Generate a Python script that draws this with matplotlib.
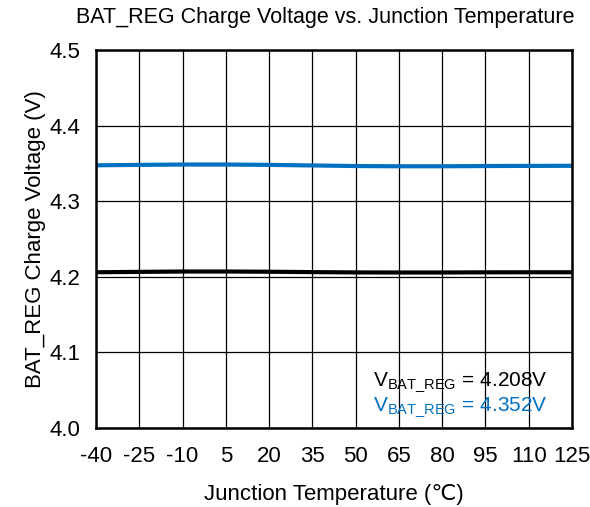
import matplotlib
matplotlib.use("Agg")
import matplotlib.pyplot as plt

# data
temps = [-40, -25, -10, 5, 20, 35, 50, 65, 80, 95, 110, 125]
vreg_420 = [4.206, 4.2065, 4.207, 4.207, 4.2067, 4.2062, 4.2058, 4.2057, 4.2057, 4.2059, 4.206, 4.206]
vreg_435 = [4.3475, 4.348, 4.3485, 4.3485, 4.348, 4.3473, 4.3465, 4.3462, 4.3462, 4.3465, 4.3467, 4.3468]
xticks = temps
xticklabels = ["-40", "-25", "-10", "5", "20", "35", "50", "65", "80", "95", "110", "125"]
yticks = [4.0, 4.1, 4.2, 4.3, 4.4, 4.5]

plt.rcParams['font.family'] = ['Liberation Sans', 'DejaVu Sans']

fig = plt.figure(figsize=(5.9, 5.07), dpi=100)
ax = fig.add_axes([96 / 590, 1 - 428 / 507, 476 / 590, 378 / 507])

ax.plot(temps, vreg_420, color='black', lw=3, solid_capstyle='butt')
ax.plot(temps, vreg_435, color='#0070C0', lw=3, solid_capstyle='butt')

ax.set_xlim(-40, 125)
ax.set_ylim(4.0, 4.5)
ax.set_xticks(xticks)
ax.set_xticklabels(xticklabels)
ax.set_yticks(yticks)
ax.set_yticklabels([f"{v:.1f}" for v in yticks])
ax.tick_params(length=0, labelsize=16)
ax.tick_params(axis='x', pad=13)
ax.tick_params(axis='y', pad=11)
ax.grid(True, color='black', lw=0.9)
for s in ax.spines.values():
    s.set_linewidth(1.8)

# title sits a bit left of the axes centre in the reference
fig.text(325 / 590, 1 - 18 / 507, "BAT_REG Charge Voltage vs. Junction Temperature",
         fontsize=15.5, ha='center', va='center')
ax.set_xlabel("Junction Temperature (\u2103)", fontsize=16, labelpad=12)
ax.set_ylabel("BAT_REG Charge Voltage (V)", fontsize=16, labelpad=3)

ax.text(0.95, 4.061, r"$\mathregular{V_{BAT\_REG}}$ = 4.208V", transform=ax.get_yaxis_transform(),
        ha='right', va='center', fontsize=15, color='black')
ax.text(0.95, 4.028, r"$\mathregular{V_{BAT\_REG}}$ = 4.352V", transform=ax.get_yaxis_transform(),
        ha='right', va='center', fontsize=15, color='#0070C0')

fig.savefig("out.png", dpi=100)
